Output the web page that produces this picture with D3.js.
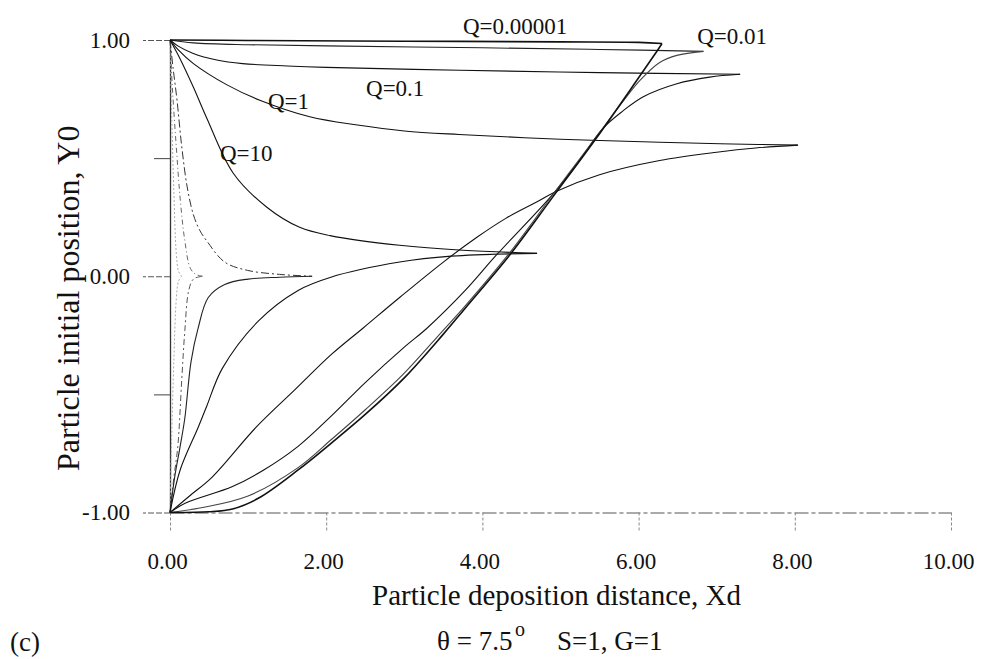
<!DOCTYPE html>
<html>
<head>
<meta charset="utf-8">
<script src="https://cdn.jsdelivr.net/npm/d3@7"></script>
<style>
  html, body { margin: 0; padding: 0; background: #fff; }
  svg { display: block; }
  text { font-family: "Liberation Serif", "DejaVu Serif", serif; fill: #111; }
</style>
</head>
<body>
<div id="chart"></div>
<script>
// ---------------- DATA ----------------
const xTicks = [0, 2, 4, 6, 8, 10];
const yTicksMajor = [-1, 0, 1];
const yTicksMinor = [-0.5, 0.5];
const qValues = ["0.00001", "0.01", "0.1", "1", "10", "100", "1000", "10000"];

// each curve: [Xd, Y0] points; upper branch from Y0=1, lower branch from Y0=-1
const q00001Upper = [[0,1],[1,0.998],[3,0.995],[5,0.992],[6.0,0.99],[6.3,0.985]];
const q00001Lower = [[0,-1],[0.5,-0.997],[0.8,-0.985],[1.13,-0.94],[1.64,-0.82],[2.07,-0.705],[2.5,-0.585],[3.0,-0.43],[3.5,-0.245],[3.78,-0.135],[4.35,0.09],[4.9,0.335],[5.46,0.585],[6.0,0.84],[6.23,0.95],[6.3,0.985]];

const q001Upper = [[0,1],[0.3,0.988],[1,0.98],[2,0.975],[4,0.967],[5.5,0.96],[6.83,0.952]];
const q001Lower = [[0,-1],[0.4,-0.98],[1.0,-0.93],[1.64,-0.81],[2.07,-0.69],[2.5,-0.565],[3.0,-0.41],[3.48,-0.235],[3.78,-0.125],[4.35,0.1],[4.9,0.345],[5.46,0.59],[5.8,0.74],[6.02,0.83],[6.27,0.905],[6.49,0.935],[6.83,0.952]];

const q01Upper = [[0,1],[0.1,0.975],[0.29,0.944],[0.6,0.915],[0.93,0.9],[1.5,0.89],[2.0,0.884],[3.71,0.872],[5.5,0.862],[7.3,0.855]];
const q01Lower = [[0,-1],[0.2,-0.96],[0.8,-0.89],[1.2,-0.82],[1.64,-0.72],[2.07,-0.59],[2.5,-0.45],[3.0,-0.3],[3.29,-0.22],[3.78,-0.06],[4.18,0.09],[4.87,0.335],[5.21,0.475],[5.54,0.625],[5.8,0.7],[6.06,0.76],[6.49,0.815],[6.91,0.843],[7.3,0.855]];

const q1Upper = [[0,1],[0.1,0.96],[0.3,0.9],[0.73,0.81],[1.15,0.745],[1.79,0.675],[2.4,0.64],[3.0,0.615],[3.7,0.6],[5.0,0.58],[6.27,0.567],[7.2,0.56],[8.04,0.555]];
const q1Lower = [[0,-1],[0.25,-0.93],[0.54,-0.85],[1.1,-0.64],[1.6,-0.48],[2.07,-0.33],[2.47,-0.22],[2.94,-0.09],[3.5,0.06],[3.93,0.165],[4.3,0.245],[4.7,0.315],[4.95,0.36],[5.5,0.43],[6.27,0.49],[7.0,0.525],[7.5,0.543],[8.04,0.555]];

const q10Upper = [[0,1],[0.13,0.92],[0.3,0.8],[0.47,0.67],[0.81,0.436],[1.24,0.292],[1.66,0.207],[2.05,0.172],[2.94,0.131],[3.75,0.11],[4.7,0.097]];
const q10Lower = [[0,-1],[0.13,-0.82],[0.36,-0.64],[0.47,-0.55],[0.67,-0.39],[1.13,-0.19],[1.64,-0.06],[2.05,-0.005],[2.94,0.06],[3.6,0.085],[4.7,0.097]];

const q100Upper = [[0,1],[0.04,0.88],[0.09,0.745],[0.15,0.55],[0.22,0.378],[0.3,0.26],[0.38,0.195],[0.47,0.15],[0.7,0.06],[0.99,0.025],[1.4,0.008],[1.82,0]];
const q100Lower = [[0,-1],[0.06,-0.85],[0.13,-0.72],[0.19,-0.6],[0.27,-0.36],[0.36,-0.22],[0.49,-0.09],[0.7,-0.035],[1.0,-0.012],[1.4,-0.004],[1.82,0]];

const q1000Upper = [[0,1],[0.03,0.8],[0.08,0.55],[0.13,0.33],[0.19,0.15],[0.26,0.034],[0.33,0.008],[0.42,0]];
const q1000Lower = [[0,-1],[0.05,-0.85],[0.1,-0.72],[0.15,-0.44],[0.19,-0.23],[0.24,-0.06],[0.3,-0.012],[0.42,0]];

const q10000Upper = [[0,1],[0.02,0.7],[0.05,0.35],[0.08,0.1],[0.11,0.02],[0.15,0]];
const q10000Lower = [[0,-1],[0.02,-0.7],[0.05,-0.35],[0.08,-0.1],[0.11,-0.02],[0.15,0]];

// annotation texts and their anchor (in data units)
const labelTexts = ["Q=0.00001", "Q=0.01", "Q=0.1", "Q=1", "Q=10"];
const labelXd = [3.75, 6.75, 2.51, 1.255, 0.64];
const labelY0 = [1.024, 0.982, 0.762, 0.707, 0.487];

// ---------------- CHART ----------------
const W = 982, H = 659;
const svg = d3.select("#chart").append("svg").attr("width", W).attr("height", H);

const x = d3.scaleLinear().domain([0, 10]).range([170, 951]);
const y = d3.scaleLinear().domain([-1, 1]).range([512.5, 40]);
const fmt = d => d.toFixed(2);

// X axis
const gx = svg.append("g").attr("transform", `translate(0,${y(-1)})`)
  .call(d3.axisBottom(x).tickValues(xTicks).tickFormat(fmt)
        .tickSizeInner(20).tickSizeOuter(0).tickPadding(20));
gx.select(".domain").attr("stroke", "#555").attr("stroke-dasharray", "14,3,4,3");
gx.selectAll(".tick line").attr("stroke", "#888").attr("stroke-dasharray", "3,2");
gx.selectAll(".tick text").attr("font-size", 23).attr("font-family", "Liberation Serif").attr("fill", "#111").attr("dx", -3);

// Y axis (major)
const gy = svg.append("g").attr("transform", `translate(${x(0)},0)`)
  .call(d3.axisLeft(y).tickValues(yTicksMajor).tickFormat(fmt)
        .tickSizeInner(27).tickSizeOuter(0).tickPadding(13));
gy.select(".domain").attr("stroke", "#333").attr("stroke-width", 1.3);
gy.selectAll(".tick line").attr("stroke", "#555").attr("stroke-dasharray", "6,2");
gy.selectAll(".tick text").attr("font-size", 23).attr("font-family", "Liberation Serif").attr("fill", "#111");

// Y axis (minor ticks)
const gy2 = svg.append("g").attr("transform", `translate(${x(0)},0)`)
  .call(d3.axisLeft(y).tickValues(yTicksMinor).tickFormat("").tickSizeInner(16).tickSizeOuter(0));
gy2.select(".domain").remove();
gy2.selectAll(".tick line").attr("stroke", "#444");

// Curves
const line = d3.line().x(d => x(d[0])).y(d => y(d[1])).curve(d3.curveCatmullRom.alpha(0.5));

const curves = [
  { q: qValues[7], pts: q10000Upper, stroke: "#aaa", w: 1, dash: "2,2" },
  { q: qValues[7], pts: q10000Lower, stroke: "#aaa", w: 1, dash: "2,2" },
  { q: qValues[6], pts: q1000Upper, stroke: "#666", w: 1, dash: "5,3,1,3" },
  { q: qValues[6], pts: q1000Lower, stroke: "#555", w: 1, dash: "6,3,2,3" },
  { q: qValues[5], pts: q100Upper, stroke: "#333", w: 1, dash: "8,3,2,3" },
  { q: qValues[5], pts: q100Lower, stroke: "#222", w: 1.1, dash: null },
  { q: qValues[4], pts: q10Upper, stroke: "#111", w: 1.1, dash: null },
  { q: qValues[4], pts: q10Lower, stroke: "#111", w: 1.1, dash: null },
  { q: qValues[3], pts: q1Upper, stroke: "#111", w: 1.1, dash: null },
  { q: qValues[3], pts: q1Lower, stroke: "#111", w: 1.1, dash: null },
  { q: qValues[2], pts: q01Upper, stroke: "#111", w: 1.1, dash: null },
  { q: qValues[2], pts: q01Lower, stroke: "#111", w: 1.1, dash: null },
  { q: qValues[1], pts: q001Upper, stroke: "#222", w: 1.1, dash: null },
  { q: qValues[1], pts: q001Lower, stroke: "#444", w: 1.1, dash: null },
  { q: qValues[0], pts: q00001Upper, stroke: "#111", w: 1.6, dash: null },
  { q: qValues[0], pts: q00001Lower, stroke: "#111", w: 1.6, dash: null }
];

svg.append("g").selectAll("path").data(curves).join("path")
  .attr("d", d => line(d.pts))
  .attr("fill", "none")
  .attr("stroke", d => d.stroke)
  .attr("stroke-width", d => d.w)
  .attr("stroke-dasharray", d => d.dash);

// Q labels
svg.append("g").selectAll("text").data(labelTexts).join("text")
  .attr("x", (d, i) => x(labelXd[i]))
  .attr("y", (d, i) => y(labelY0[i]))
  .attr("font-size", 23)
  .text(d => d);

// Axis titles
svg.append("text")
  .attr("x", (x(0) + x(10)) / 2 - 4).attr("y", 605)
  .attr("text-anchor", "middle").attr("font-size", 29)
  .text("Particle deposition distance, Xd");

svg.append("text")
  .attr("transform", `translate(79,${(y(-1) + y(1)) / 2 + 22}) rotate(-90)`)
  .attr("text-anchor", "middle").attr("font-size", 32)
  .text("Particle initial position, Y0");

// Caption
const cap = svg.append("text").attr("y", 650).attr("font-size", 27);
cap.append("tspan").attr("x", 437).text("θ = 7.5");
cap.append("tspan").attr("x", 515).attr("dy", -14).attr("font-size", 20).text("o");
cap.append("tspan").attr("x", 557).attr("dy", 14).text("S=1, G=1");

svg.append("text").attr("x", 10).attr("y", 651).attr("font-size", 27).text("(c)");
</script>
</body>
</html>
